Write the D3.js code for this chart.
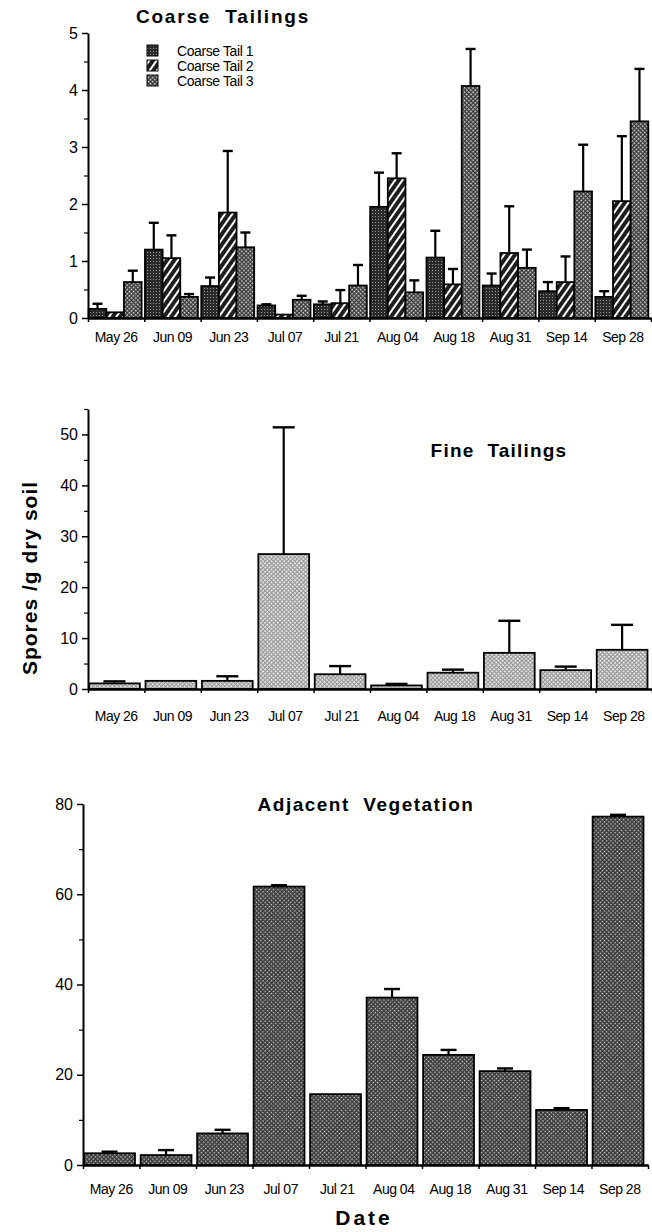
<!DOCTYPE html>
<html>
<head>
<meta charset="utf-8">
<script src="https://d3js.org/d3.v7.min.js"></script>
<style>
  body { margin: 0; background: #fff; }
  svg { font-family: "Liberation Sans", Arial, sans-serif; }
</style>
</head>
<body>
<svg id="drawing_region"></svg>
<script>
// sampling dates (shared by all three panels)
const dates = ["May 26", "Jun 09", "Jun 23", "Jul 07", "Jul 21", "Aug 04", "Aug 18", "Aug 31", "Sep 14", "Sep 28"];

// coarse tailings, three plots: mean and +error (spores / g dry soil)
const coarse1 = [0.16, 1.2, 0.56, 0.22, 0.24, 1.95, 1.06, 0.57, 0.47, 0.37];
const coarse1Err = [0.09, 0.47, 0.15, 0.02, 0.05, 0.6, 0.47, 0.21, 0.16, 0.1];
const coarse2 = [0.1, 1.05, 1.85, 0.06, 0.26, 2.45, 0.59, 1.14, 0.63, 2.05];
const coarse2Err = [0, 0.4, 1.08, 0, 0.23, 0.44, 0.27, 0.82, 0.45, 1.14];
const coarse3 = [0.63, 0.37, 1.24, 0.32, 0.57, 0.45, 4.07, 0.88, 2.22, 3.45];
const coarse3Err = [0.2, 0.05, 0.26, 0.07, 0.36, 0.21, 0.65, 0.32, 0.82, 0.92];
const coarseNames = ["Coarse Tail 1", "Coarse Tail 2", "Coarse Tail 3"];

// fine tailings
const fine = [1.1, 1.6, 1.6, 26.5, 2.9, 0.7, 3.2, 7.1, 3.7, 7.7];
const fineErr = [0.4, 0, 0.9, 24.9, 1.6, 0.3, 0.6, 6.3, 0.7, 4.9];

// adjacent vegetation
const veg = [2.6, 2.2, 7.0, 61.7, 15.7, 37.1, 24.4, 20.8, 12.2, 77.2];
const vegErr = [0.35, 1.1, 0.8, 0.3, 0, 1.9, 1.1, 0.6, 0.4, 0.4];

// y tick values
const coarseTicks = [0, 1, 2, 3, 4, 5];
const fineTicks = [0, 10, 20, 30, 40, 50];
const vegTicks = [0, 20, 40, 60, 80];

const svg = d3.select('#drawing_region')
    .attr('width', 652)
    .attr('height', 1232);

// fill patterns imitating the old print screens
const defs = svg.append('defs');

function makePattern(id, size, bg, fg, cells, rotate) {
    let p = defs.append('pattern')
        .attr('id', id)
        .attr('patternUnits', 'userSpaceOnUse')
        .attr('width', size)
        .attr('height', size);
    if (rotate) p.attr('patternTransform', `rotate(${rotate})`);
    p.append('rect').attr('width', size).attr('height', size).attr('fill', bg);
    cells.forEach(c => {
        p.append('rect')
            .attr('x', c[0]).attr('y', c[1])
            .attr('width', c[2]).attr('height', c[3])
            .attr('fill', fg);
    });
}

makePattern('pat1', 3, '#2a2a2a', '#9a9a9a', [[0, 0, 1, 1]], 0);
makePattern('pat2', 6, '#1e1e1e', '#ffffff', [[0, 0, 2, 6]], 35);
makePattern('pat3', 3, '#3a3a3a', '#e8e8e8', [[0, 0, 1.5, 1.5]], 45);
makePattern('patFine', 3, '#9a9a9a', '#ffffff', [[0, 0, 1.6, 1.6]], 45);
makePattern('patVeg', 3, '#3c3c3c', '#d8d8d8', [[0, 0, 1.3, 1.3]], 45);

class BarChart {

    constructor(config, series) {
        this.config = config;
        this.series = series;
        this.init();
    }

    init() {
        let self = this;
        let c = self.config;

        self.chart = svg.append('g');

        self.xscale = d3.scaleBand()
            .domain(dates)
            .range([c.left, c.right])
            .paddingInner(c.padInner)
            .paddingOuter(c.padOuter)
            .align(0.2);

        self.inner = d3.scaleBand()
            .domain(d3.range(self.series.length))
            .range([0, self.xscale.bandwidth()])
            .padding(0);

        self.yscale = d3.scaleLinear()
            .domain(c.ydomain)
            .range([c.bottom, c.top]);

        // ticks between the dates
        self.xedge = d3.scaleLinear()
            .domain([0, dates.length])
            .range([c.left, c.right]);
    }

    render() {
        let self = this;
        let c = self.config;

        self.series.forEach((s, i) => {
            let data = s.values.map((v, j) => ({ date: dates[j], v: v, e: s.err[j] }));
            let g = self.chart.append('g');

            g.selectAll('rect')
                .data(data)
                .enter()
                .append('rect')
                .attr('x', d => self.xscale(d.date) + self.inner(i))
                .attr('y', d => self.yscale(d.v))
                .attr('width', self.inner.bandwidth())
                .attr('height', d => self.yscale(0) - self.yscale(d.v))
                .attr('fill', `url(#${s.pattern})`)
                .attr('stroke', '#000')
                .attr('stroke-width', 1.8);

            let cx = d => self.xscale(d.date) + self.inner(i) + self.inner.bandwidth() / 2;
            let withErr = data.filter(d => d.e > 0);

            g.selectAll('.err')
                .data(withErr)
                .enter()
                .append('line')
                .attr('x1', cx).attr('x2', cx)
                .attr('y1', d => self.yscale(d.v))
                .attr('y2', d => self.yscale(d.v + d.e))
                .attr('stroke', '#000')
                .attr('stroke-width', 2.2);

            g.selectAll('.cap')
                .data(withErr)
                .enter()
                .append('line')
                .attr('x1', d => cx(d) - c.capW / 2)
                .attr('x2', d => cx(d) + c.capW / 2)
                .attr('y1', d => self.yscale(d.v + d.e))
                .attr('y2', d => self.yscale(d.v + d.e))
                .attr('stroke', '#000')
                .attr('stroke-width', 2.4);
        });

        // y axis, major + minor
        let yaxis = d3.axisLeft(self.yscale)
            .tickValues(c.yticks)
            .tickFormat(d3.format('d'))
            .tickSize(6)
            .tickPadding(4)
            .tickSizeOuter(0);
        let yg = self.chart.append('g')
            .attr('transform', `translate(${c.left}, 0)`)
            .call(yaxis);
        yg.selectAll('text')
            .style('font-size', c.yfont + 'px')
            .attr('fill', '#000');
        yg.selectAll('line').attr('stroke-width', 1.5);
        yg.select('.domain').attr('stroke-width', 2);

        let minors = d3.axisLeft(self.yscale)
            .tickValues(c.yminor)
            .tickSize(4)
            .tickFormat('')
            .tickSizeOuter(0);
        let mg = self.chart.append('g')
            .attr('transform', `translate(${c.left}, 0)`)
            .call(minors);
        mg.select('.domain').remove();
        mg.selectAll('line').attr('stroke-width', 1.2);

        // x axis
        let xg = self.chart.append('g')
            .attr('transform', `translate(0, ${c.bottom})`)
            .call(d3.axisBottom(self.xedge)
                .tickValues(d3.range(dates.length + 1))
                .tickSize(4)
                .tickSizeOuter(0)
                .tickFormat(''));
        xg.select('.domain').attr('stroke-width', 2.4);
        xg.selectAll('line').attr('stroke-width', 1.5);

        self.chart.append('g')
            .selectAll('text')
            .data(dates)
            .enter()
            .append('text')
            .attr('x', d => self.xedge(dates.indexOf(d) + 0.5))
            .attr('y', c.labelY)
            .attr('text-anchor', 'middle')
            .style('font-size', '14px')
            .style('letter-spacing', '-0.5px')
            .text(d => d);

        self.chart.append('text')
            .attr('x', c.titleX)
            .attr('y', c.titleY)
            .attr('text-anchor', 'middle')
            .style('font-size', '19px')
            .style('font-weight', 'bold')
            .style('letter-spacing', c.titleLs + 'px')
            .style('white-space', 'pre')
            .text(c.title);
    }
}

const coarseChart = new BarChart({
    left: 88, right: 651, top: 33, bottom: 318,
    ydomain: [0, 5], yticks: coarseTicks, yminor: [0.5, 1.5, 2.5, 3.5, 4.5],
    padInner: 0.06, padOuter: 0.03, capW: 10, yfont: 16,
    labelY: 342, title: 'Coarse  Tailings', titleX: 223, titleY: 23, titleLs: 1.8
}, [
    { values: coarse1, err: coarse1Err, pattern: 'pat1' },
    { values: coarse2, err: coarse2Err, pattern: 'pat2' },
    { values: coarse3, err: coarse3Err, pattern: 'pat3' }
]);
coarseChart.render();

const fineChart = new BarChart({
    left: 88, right: 652, top: 409, bottom: 689,
    ydomain: [0, 55], yticks: fineTicks, yminor: [5, 15, 25, 35, 45, 55],
    padInner: 0.1, padOuter: 0.05, capW: 22, yfont: 16,
    labelY: 721, title: 'Fine  Tailings', titleX: 499, titleY: 457, titleLs: 1.2
}, [
    { values: fine, err: fineErr, pattern: 'patFine' }
]);
fineChart.render();

const vegChart = new BarChart({
    left: 83, right: 648, top: 804, bottom: 1165,
    ydomain: [0, 80], yticks: vegTicks, yminor: [10, 30, 50, 70],
    padInner: 0.1, padOuter: 0.05, capW: 16, yfont: 16,
    labelY: 1194, title: 'Adjacent  Vegetation', titleX: 366, titleY: 811, titleLs: 1.5
}, [
    { values: veg, err: vegErr, pattern: 'patVeg' }
]);
vegChart.render();

// legend of the coarse panel
const legend = svg.append('g');
coarseNames.forEach((name, i) => {
    legend.append('rect')
        .attr('x', 147)
        .attr('y', 45 + i * 15)
        .attr('width', 11)
        .attr('height', 11)
        .attr('fill', `url(#pat${i + 1})`)
        .attr('stroke', '#000')
        .attr('stroke-width', 1);
    legend.append('text')
        .attr('x', 177)
        .attr('y', 56 + i * 15)
        .style('font-size', '14px')
        .style('letter-spacing', '-0.4px')
        .text(name);
});

// shared axis titles
svg.append('text')
    .attr('transform', 'translate(37, 578) rotate(-90)')
    .attr('text-anchor', 'middle')
    .style('font-size', '21px')
    .style('font-weight', 'bold')
    .style('letter-spacing', '1px')
    .text('Spores /g dry soil');

svg.append('text')
    .attr('x', 364)
    .attr('y', 1225)
    .attr('text-anchor', 'middle')
    .style('font-size', '21px')
    .style('font-weight', 'bold')
    .style('letter-spacing', '3px')
    .text('Date');
</script>
</body>
</html>
